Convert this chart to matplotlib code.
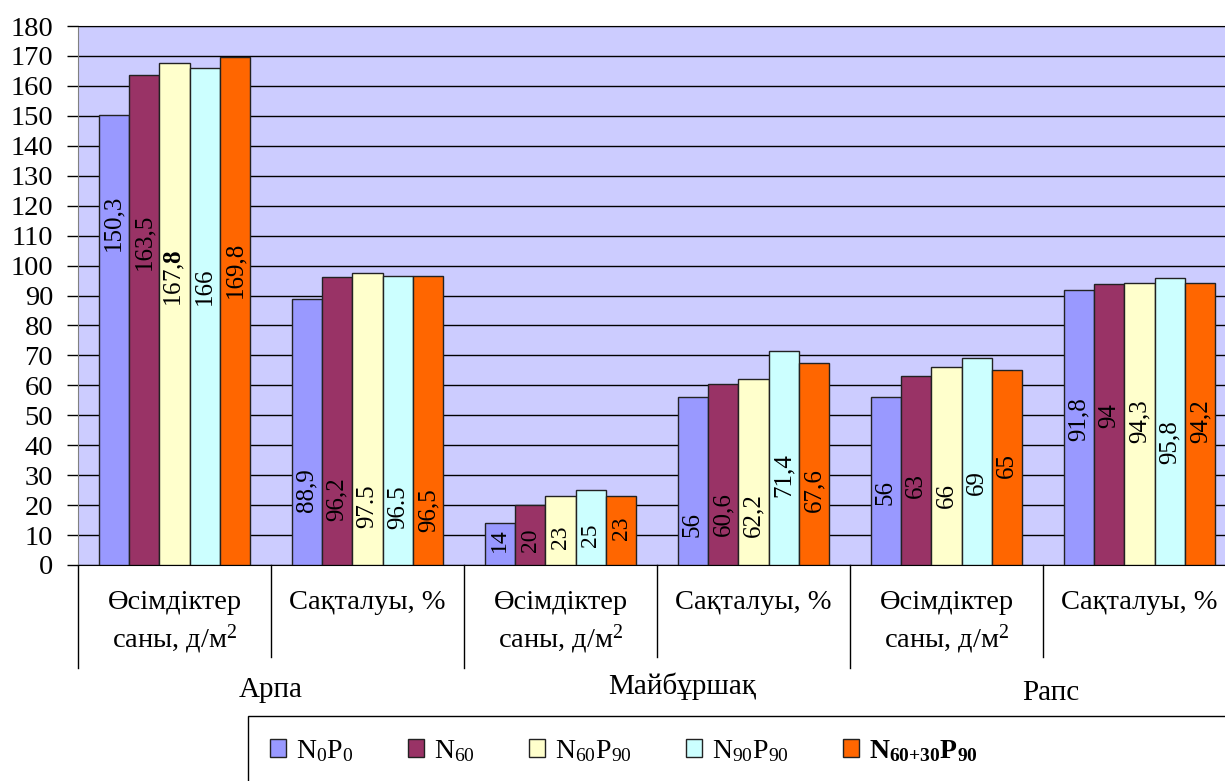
import matplotlib
matplotlib.use("Agg")
import matplotlib.pyplot as plt
from matplotlib.patches import Rectangle
import numpy as np

plt.rcParams['font.family'] = ['Liberation Serif', 'DejaVu Serif']
plt.rcParams['mathtext.fontset'] = 'custom'
plt.rcParams['mathtext.rm'] = 'Liberation Serif'
plt.rcParams['mathtext.it'] = 'Liberation Serif:italic'
plt.rcParams['mathtext.bf'] = 'Liberation Serif:bold'

crops = ['Арпа', 'Майбұршақ', 'Рапс']
subcats = ['Өсімдіктер\nсаны, д/м$^2$', 'Сақталуы, %'] * 3

series_names = [r'N$_0$P$_0$', r'N$_{60}$', r'N$_{60}$P$_{90}$', r'N$_{90}$P$_{90}$',
                r'$\mathbf{N_{60{+}30}P_{90}}$']
colors = ['#9999FF', '#993366', '#FFFFCC', '#CCFFFF', '#FF6600']

# values per subcategory (rows), per treatment (columns)
values = [
    [150.3, 163.5, 167.8, 166.0, 169.8],
    [88.9, 96.2, 97.5, 96.5, 96.5],
    [14, 20, 23, 25, 23],
    [56, 60.6, 62.2, 71.4, 67.6],
    [56, 63, 66, 69, 65],
    [91.8, 94, 94.3, 95.8, 94.2],
]
labels = [
    ['150,3', '163,5', r'167,$\mathbf{8}$', '166', '169,8'],
    ['88,9', '96,2', '97.5', '96.5', '96,5'],
    ['14', '20', '23', '25', '23'],
    ['56', '60,6', '62,2', '71,4', '67,6'],
    ['56', '63', '66', '69', '65'],
    ['91,8', '94', '94,3', '95,8', '94,2'],
]
# where each value label sits, as a fraction of its bar height
label_frac = [
    [0.76, 0.66, 0.57, 0.56, 0.58],
    [0.28, 0.23, 0.20, 0.20, 0.19],
    [0.60, 0.42, 0.40, 0.40, 0.54],
    [0.24, 0.28, 0.27, 0.42, 0.37],
    [0.43, 0.42, 0.35, 0.40, 0.51],
    [0.53, 0.53, 0.51, 0.43, 0.51],
]

W, H = 1225, 781
fig = plt.figure(figsize=(W / 100, H / 100), dpi=100)
ax = fig.add_axes([78 / W, (H - 565) / H, 6 * 193 / W, 539 / H])
ax.set_facecolor('#CCCCFF')

vals = np.array(values)
x = np.arange(len(subcats)) + 0.5
bw = 0.1575
bars = []
for j in range(len(series_names)):
    xs = x + (j - 2) * bw
    b = ax.bar(xs, vals[:, j], bw, color=colors[j], edgecolor='#222222', linewidth=1,
               label=series_names[j], zorder=3)
    bars.append(b)
    for i in range(len(subcats)):
        fs = 17 if vals[i, j] < 30 else 18
        ax.text(xs[i], vals[i, j] * label_frac[i][j], labels[i][j], rotation=90,
                ha='center', va='center', fontsize=fs, zorder=4)

ax.set_xlim(0, 6)
ax.set_ylim(0, 180)
ax.set_yticks(range(0, 181, 10))
ax.tick_params(axis='y', labelsize=20.5, length=8, width=1, pad=10, color='black')
ax.set_xticks([])
ax.yaxis.grid(True, color='black', linewidth=1, zorder=1)
ax.set_axisbelow(True)
ax.spines['left'].set_color('#808080')
ax.spines['top'].set_color('black')
ax.spines['bottom'].set_color('black')
ax.spines['right'].set_visible(False)

# multi-level category axis
tr = ax.get_xaxis_transform()
for k in range(7):
    low = -0.191 if k % 2 == 0 else -0.171
    ax.plot([k, k], [0, low], color='black', linewidth=1, transform=tr, clip_on=False)
for i, s in enumerate(subcats):
    ax.text(x[i], -0.046, s, transform=tr, ha='center', va='top', fontsize=20.5,
            linespacing=1.3)
crop_x = [1.0, 3.13, 5.04]
crop_y = [-0.232, -0.225, -0.238]
for c, name in enumerate(crops):
    ax.text(crop_x[c], crop_y[c], name, transform=tr, ha='center', va='center', fontsize=21)

# legend box runs past the right and bottom edges of the figure
fig.patches.append(Rectangle((248 / W, -0.05), 0.9, (H - 716) / H + 0.05,
                             transform=fig.transFigure, facecolor='white',
                             edgecolor='black', linewidth=1))
leg = fig.legend(handles=bars, loc='center left', bbox_to_anchor=(270 / W, 30 / H),
                 ncol=5, fontsize=20, frameon=False, handlelength=0.58, handleheight=0.62,
                 handletextpad=0.36, columnspacing=1.95, borderaxespad=0, borderpad=0)
for t in leg.get_texts()[-1:]:
    t.set_fontweight('bold')

fig.savefig('out.png', dpi=100)
